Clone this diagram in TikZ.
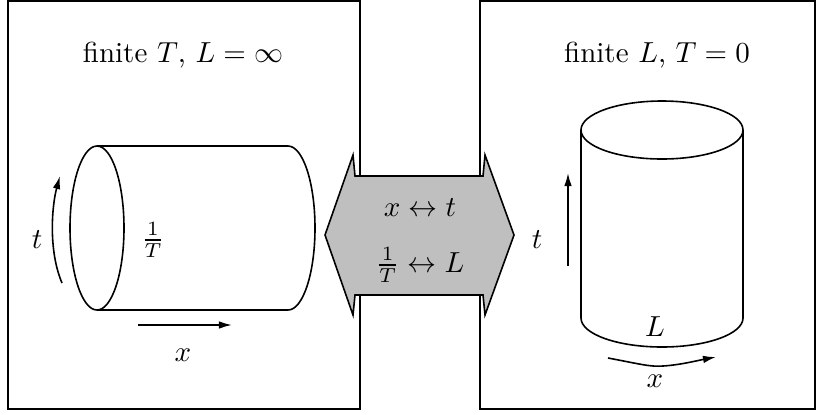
\documentclass[tikz,border=0pt]{standalone}
\usepackage{amsmath,amssymb}
\usepackage{xcolor}
\usepackage{tikz}
\usetikzlibrary{arrows.meta,calc}

\begin{document}
\begin{tikzpicture}[x=0.345pt,y=-0.345pt,line width=0.55pt,
    lbl/.style={inner sep=0pt},
    arr/.style={-{Latex[length=4.5pt,width=2.6pt]}}]
    \useasboundingbox (0,0) rectangle (822,414);
    % the two frames
    \draw (8,1) rectangle (360,409);
    \draw (480,1) rectangle (815,409);
    \node[lbl] (titleT) at (183,55) {finite $T$, $L=\infty$};
    \node[lbl] (titleL) at (657,55) {finite $L$, $T=0$};
    % horizontal cylinder
    \draw (97,228) ellipse (27 and 82);
    \draw (97,146) -- (288,146) arc (-90:90:27 and 82) -- (97,310);
    \draw[arr] (62,283) .. controls (48,250) and (52,205) .. (60,176);
    \node[lbl] (tleft) at (37,240) {$t$};
    \node[lbl] (invT) at (153,240) {$\frac{1}{T}$};
    \draw[arr] (138,325) -- (232,325);
    \node[lbl] (xleft) at (183,355) {$x$};
    % exchange arrow
    \draw[fill=black!25] (325,235) -- (353,155) -- (355,176) -- (483,176) -- (485,155)
      -- (514,235) -- (485,315) -- (483,295) -- (355,295) -- (353,315) -- cycle;
    \draw (360,1) -- (360,176) (360,295) -- (360,409);
    \draw (480,1) -- (480,176) (480,295) -- (480,409);
    \node[lbl] (swapxt) at (420,208) {$x\leftrightarrow t$};
    \node[lbl] (swapTL) at (420,265) {$\frac{1}{T}\leftrightarrow L$};
    % vertical cylinder
    \draw (662,130) ellipse (81 and 29);
    \draw (581,130) -- (581,318) arc (180:0:81 and 29) -- (743,130);
    \draw[arr] (568,266) -- (568,173);
    \node[lbl] (tright) at (537,240) {$t$};
    \node[lbl] (Lright) at (655,327) {$L$};
    \draw[arr] (608,358) .. controls (640,364) and (650,367) .. (663,366)
      .. controls (680,365) and (700,360) .. (716,357);
    \node[lbl] (xright) at (655,381) {$x$};
\end{tikzpicture}
\end{document}
